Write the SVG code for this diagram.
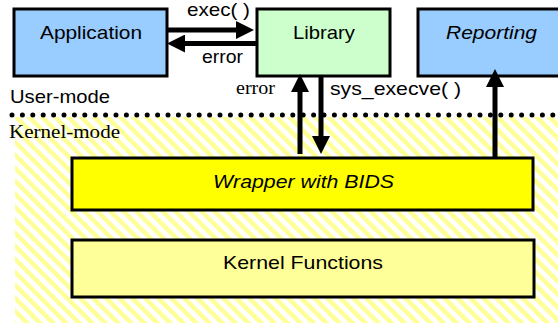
<svg xmlns="http://www.w3.org/2000/svg" width="558" height="323" viewBox="0 0 558 323">
<style>
.box{stroke:#000;stroke-width:3}
.sans{font-family:"Liberation Sans",Arial,sans-serif;font-size:19px;fill:#000}
.serif{font-family:"Liberation Serif","Times New Roman",serif;font-size:18px;fill:#000}
.it{font-style:italic}
.conn{stroke:#000;stroke-width:5;fill:none;marker-end:url(#ah)}
</style>
<defs>
<pattern id="hatch" patternUnits="userSpaceOnUse" width="9.2" height="9.2" patternTransform="rotate(-45)">
<rect x="0" y="0" width="9.2" height="9.2" fill="#fff"/>
<rect x="0" y="0" width="4.6" height="9.2" fill="#ffff99"/>
</pattern>
<marker id="ah" markerUnits="userSpaceOnUse" markerWidth="18" markerHeight="18" refX="0" refY="8.5" orient="auto" viewBox="0 0 17 17">
<path d="M0,0 L17,8.5 L0,17 z" fill="#000"/>
</marker>
</defs>
<rect x="0" y="0" width="558" height="323" fill="#fff"/>
<rect id="kernel-area" x="15" y="117" width="543" height="206" fill="url(#hatch)"/>
<line x1="12" y1="115" x2="558" y2="115" stroke="#000" stroke-width="5" stroke-linecap="round" stroke-dasharray="0 10.4"/>
<text class="sans" x="10" y="103" textLength="100" lengthAdjust="spacingAndGlyphs">User-mode</text>
<text class="serif" x="9" y="138" textLength="111" lengthAdjust="spacingAndGlyphs">Kernel-mode</text>
<g id="application">
<rect class="box" x="14" y="9" width="153" height="67" fill="#99ccff"/>
<text class="sans" x="40" y="39" textLength="102" lengthAdjust="spacingAndGlyphs">Application</text>
</g>
<g id="library">
<rect class="box" x="257" y="9" width="133" height="67" fill="#ccffcc"/>
<text class="sans" x="293" y="39" textLength="62" lengthAdjust="spacingAndGlyphs">Library</text>
</g>
<g id="reporting">
<rect class="box" x="418" y="9" width="150" height="67" fill="#99ccff"/>
<text class="sans it" x="446" y="39" textLength="91" lengthAdjust="spacingAndGlyphs">Reporting</text>
</g>
<g id="wrapper">
<rect class="box" x="72" y="158" width="461" height="52" fill="#ffff00"/>
<text class="sans it" x="213" y="188" textLength="181" lengthAdjust="spacingAndGlyphs">Wrapper with BIDS</text>
</g>
<g id="kernel-functions">
<rect class="box" x="72" y="240" width="462" height="57" fill="#ffff99"/>
<text class="sans" x="223" y="269" textLength="160" lengthAdjust="spacingAndGlyphs">Kernel Functions</text>
</g>
<g id="connectors">
<line class="conn" x1="167" y1="30" x2="236" y2="30"/>
<line class="conn" x1="257" y1="43.5" x2="185" y2="43.5"/>
<line class="conn" x1="300" y1="154" x2="300" y2="92"/>
<line class="conn" x1="321" y1="76" x2="321" y2="136"/>
<line class="conn" x1="495" y1="158" x2="495" y2="87"/>
<text class="sans" x="187" y="16" textLength="63" lengthAdjust="spacingAndGlyphs">exec( )</text>
<text class="sans" x="202" y="63" textLength="41" lengthAdjust="spacingAndGlyphs">error</text>
<text class="serif" x="236" y="94" textLength="39" lengthAdjust="spacingAndGlyphs">error</text>
<text class="sans" x="330" y="95" textLength="131" lengthAdjust="spacingAndGlyphs">sys_execve( )</text>
</g>
</svg>
